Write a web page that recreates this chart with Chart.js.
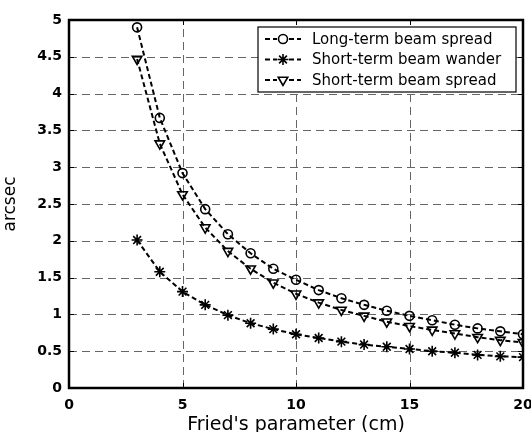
<!DOCTYPE html>
<html lang="en">
<head>
  <meta charset="UTF-8">
  <title>Beam spread vs Fried's parameter</title>
  <script src="https://cdn.jsdelivr.net/npm/chart.js"></script>
  <style>
    body { margin: 0; background: #fff; }
    canvas { display: block; }
  </style>
</head>
<body>
  <canvas id="grafico" width="531" height="432"></canvas>

  <script>
    // Fried's parameter r0 (cm)
    const r0 = [3, 4, 5, 6, 7, 8, 9, 10, 11, 12, 13, 14, 15, 16, 17, 18, 19, 20];

    // values in arcsec
    const longTermSpread = [4.90, 3.67, 2.92, 2.43, 2.09, 1.83, 1.62, 1.47, 1.33, 1.22, 1.13, 1.05, 0.98, 0.92, 0.86, 0.81, 0.77, 0.73];
    const shortTermWander = [2.01, 1.58, 1.31, 1.13, 0.99, 0.88, 0.80, 0.73, 0.68, 0.63, 0.59, 0.56, 0.53, 0.50, 0.48, 0.45, 0.43, 0.42];
    const shortTermSpread = [4.47, 3.32, 2.63, 2.18, 1.86, 1.62, 1.43, 1.28, 1.16, 1.06, 0.98, 0.90, 0.84, 0.79, 0.74, 0.69, 0.65, 0.62];

    const seriesNames = ['Long-term beam spread', 'Short-term beam wander', 'Short-term beam spread'];

    const fonte = '"DejaVu Sans", Arial, sans-serif';

    function pontos(ys) {
      return r0.map((x, i) => ({ x: x, y: ys[i] }));
    }

    function serie(label, ys, style, radius, rotation) {
      return {
        label: label,
        data: pontos(ys),
        showLine: true,
        borderColor: '#000',
        borderWidth: 2,
        borderDash: [5, 3],
        pointStyle: style,
        pointRadius: radius,
        pointRotation: rotation,
        pointBorderWidth: 1.6,
        pointBorderColor: '#000',
        pointBackgroundColor: 'rgba(0,0,0,0)',
        tension: 0
      };
    }

    // dashed grid, drawn under the lines
    const grade = {
      id: 'grade',
      beforeDatasetsDraw(chart) {
        const ctx = chart.ctx;
        const a = chart.chartArea;
        const sx = chart.scales.x, sy = chart.scales.y;
        ctx.save();
        ctx.strokeStyle = '#666';
        ctx.lineWidth = 1;
        ctx.setLineDash([8, 5]);
        ctx.beginPath();
        sx.ticks.forEach(t => {
          const px = Math.round(sx.getPixelForValue(t.value)) + 0.5;
          ctx.moveTo(px, a.bottom); ctx.lineTo(px, a.top);
        });
        sy.ticks.forEach(t => {
          const py = Math.round(sy.getPixelForValue(t.value)) + 0.5;
          ctx.moveTo(a.left, py); ctx.lineTo(a.right, py);
        });
        ctx.stroke();
        ctx.restore();
      }
    };

    // box around the axes + inward tick marks, MATLAB style
    const moldura = {
      id: 'moldura',
      afterDatasetsDraw(chart) {
        const ctx = chart.ctx;
        const a = chart.chartArea;
        const sx = chart.scales.x, sy = chart.scales.y;
        ctx.save();
        ctx.strokeStyle = '#000';
        ctx.lineWidth = 1;
        ctx.beginPath();
        sx.ticks.forEach(t => {
          const px = Math.round(sx.getPixelForValue(t.value)) + 0.5;
          ctx.moveTo(px, a.bottom); ctx.lineTo(px, a.bottom - 5);
          ctx.moveTo(px, a.top); ctx.lineTo(px, a.top + 5);
        });
        sy.ticks.forEach(t => {
          const py = Math.round(sy.getPixelForValue(t.value)) + 0.5;
          ctx.moveTo(a.left, py); ctx.lineTo(a.left + 5, py);
          ctx.moveTo(a.right, py); ctx.lineTo(a.right - 5, py);
        });
        ctx.stroke();
        ctx.lineWidth = 2.5;
        ctx.strokeRect(a.left, a.top, a.right - a.left, a.bottom - a.top);
        ctx.restore();
      }
    };

    // legend inside the top right corner
    const legenda = {
      id: 'legenda',
      afterDraw(chart) {
        const ctx = chart.ctx;
        const a = chart.chartArea;
        const bx = 258, by = 27, bw = a.right - 7 - 258, bh = 65;
        ctx.save();
        ctx.fillStyle = '#fff';
        ctx.fillRect(bx, by, bw, bh);
        ctx.strokeStyle = '#000';
        ctx.lineWidth = 1.2;
        ctx.strokeRect(bx, by, bw, bh);
        chart.data.datasets.forEach((ds, i) => {
          const y = by + 12 + i * 20.5;
          ctx.strokeStyle = '#000';
          ctx.lineWidth = 2;
          ctx.setLineDash([5, 3]);
          ctx.beginPath();
          ctx.moveTo(265, y); ctx.lineTo(301, y);
          ctx.stroke();
          ctx.setLineDash([]);
          ctx.fillStyle = '#fff';
          ctx.fillRect(277, y - 6, 12, 12);
          ctx.lineWidth = ds.pointBorderWidth;
          Chart.helpers.drawPoint(ctx, {
            pointStyle: ds.pointStyle,
            radius: ds.pointRadius,
            rotation: ds.pointRotation,
            borderWidth: ds.pointBorderWidth
          }, 283, y);
          ctx.fillStyle = '#000';
          ctx.font = '15px ' + fonte;
          ctx.textBaseline = 'middle';
          ctx.fillText(ds.label, 312, y + 1);
        });
        ctx.restore();
      }
    };

    const ctx = document.getElementById('grafico').getContext('2d');
    new Chart(ctx, {
      type: 'scatter',
      data: {
        datasets: [
          serie(seriesNames[0], longTermSpread, 'circle', 4.5, 0),
          serie(seriesNames[1], shortTermWander, 'star', 5.5, 0),
          serie(seriesNames[2], shortTermSpread, 'triangle', 5.5, 180)
        ]
      },
      options: {
        responsive: false,
        animation: false,
        layout: { padding: { top: 20, right: 8, left: 0, bottom: 0 } },
        plugins: {
          legend: { display: false },
          tooltip: { enabled: false }
        },
        scales: {
          x: {
            type: 'linear',
            min: 0,
            max: 20,
            afterFit(scale) {
              scale.height = 44;
              scale.paddingLeft = 0;
              scale.paddingRight = 0;
            },
            grid: { display: false, drawTicks: false },
            border: { display: false },
            ticks: {
              stepSize: 5,
              padding: 9,
              color: '#000',
              font: { family: fonte, size: 14, weight: 'bold' }
            },
            title: {
              display: true,
              text: "Fried's parameter (cm)",
              color: '#000',
              padding: { top: 0, bottom: -4 },
              font: { family: fonte, size: 19 }
            }
          },
          y: {
            min: 0,
            max: 5,
            afterFit(scale) { scale.width = 69; },
            grid: { display: false, drawTicks: false },
            border: { display: false },
            ticks: {
              stepSize: 0.5,
              padding: 7,
              color: '#000',
              font: { family: fonte, size: 14, weight: 'bold' },
              callback: v => String(Number(v))
            },
            title: {
              display: true,
              text: 'arcsec',
              color: '#000',
              padding: { top: 0, bottom: 4 },
              font: { family: fonte, size: 17 }
            }
          }
        }
      },
      plugins: [grade, moldura, legenda]
    });
  </script>
</body>
</html>
